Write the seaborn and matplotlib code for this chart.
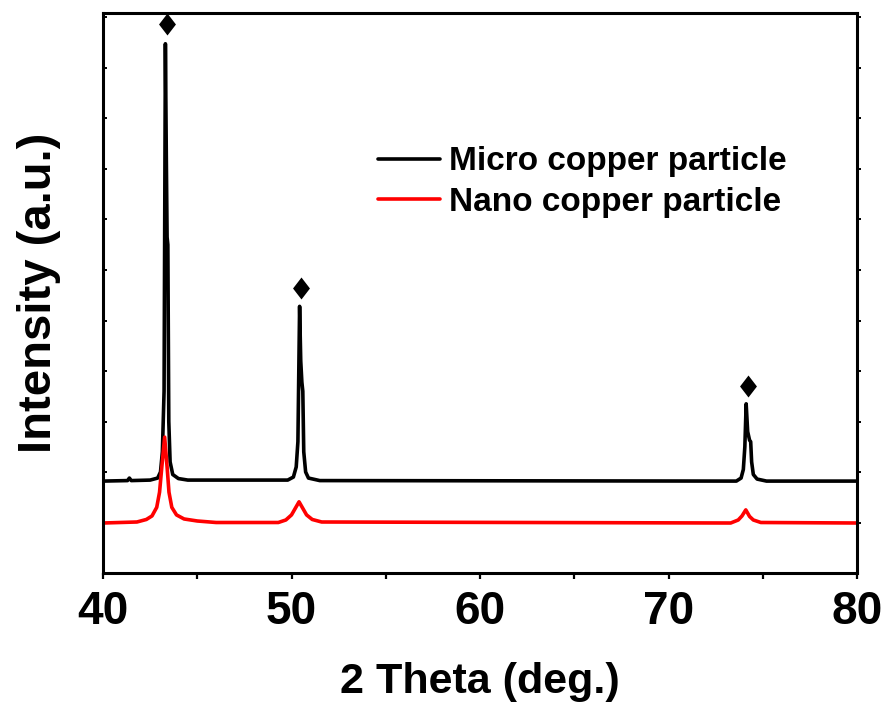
import matplotlib
matplotlib.use("Agg")
import matplotlib.pyplot as plt
from matplotlib.path import Path
import numpy as np
import pandas as pd
import seaborn as sns

# ---- data ----
series_names = ["Micro copper particle", "Nano copper particle"]

micro_2theta = [40.0, 41.3, 41.4, 41.5, 42.5, 42.9, 43.05, 43.15, 43.24, 43.31, 43.36,
                43.40, 43.44, 43.49, 43.56, 43.7, 44.0, 44.5,
                49.8, 50.1, 50.25, 50.34, 50.43, 50.49, 50.55, 50.60, 50.65, 50.75, 50.9, 51.5,
                73.6, 73.85, 73.97, 74.05, 74.12, 74.20, 74.30, 74.36, 74.41, 74.5, 74.7, 75.2, 80.0]
micro_intensity = [1.82, 1.83, 1.88, 1.83, 1.84, 1.88, 2.0, 2.4, 3.6, 10.48, 8.2,
                   6.65, 6.5, 3.0, 2.2, 1.95, 1.87, 1.84,
                   1.84, 1.9, 2.1, 2.6, 5.28, 4.2, 3.78, 3.6, 2.4, 2.0, 1.88, 1.83,
                   1.82, 1.88, 2.05, 2.5, 3.35, 2.8, 2.63, 2.6, 2.2, 1.95, 1.86, 1.82, 1.82]

nano_2theta = [40.0, 41.8, 42.3, 42.6, 42.85, 43.0, 43.12, 43.27, 43.4, 43.5, 43.65, 43.9,
               44.3, 45.0, 46.0,
               49.3, 49.7, 50.0, 50.2, 50.4, 50.6, 50.8, 51.1, 51.6,
               73.3, 73.7, 73.9, 74.1, 74.3, 74.5, 74.9, 80.0]
nano_intensity = [0.99, 1.01, 1.06, 1.13, 1.3, 1.6, 2.1, 2.69, 2.1, 1.6, 1.3, 1.15,
                  1.07, 1.03, 1.0,
                  1.0, 1.05, 1.15, 1.28, 1.41, 1.28, 1.15, 1.06, 1.01,
                  0.99, 1.05, 1.13, 1.25, 1.12, 1.05, 1.0, 0.99]

peak_2theta = [43.41, 50.50, 74.20]
peak_marker_y = [10.87, 5.64, 3.70]

x_major_ticks = [40, 50, 60, 70, 80]
x_minor_ticks = [45, 55, 65, 75]
y_ticks = list(range(1, 12))

# ---- styling ----
sns.set_theme(style="ticks")
plt.rcParams["font.family"] = ["Liberation Sans", "DejaVu Sans"]
plt.rcParams["font.weight"] = "bold"
plt.rcParams["axes.labelweight"] = "bold"
plt.rcParams["text.color"] = "black"
plt.rcParams["axes.labelcolor"] = "black"
plt.rcParams["xtick.color"] = "black"
plt.rcParams["ytick.color"] = "black"
plt.rcParams["axes.edgecolor"] = "black"

W, H = 888, 711
fig = plt.figure(figsize=(W / 100, H / 100), dpi=100)
ax = fig.add_axes([103 / W, 1 - 573 / H, 754 / W, 560 / H])

df = pd.concat([
    pd.DataFrame({"2theta": micro_2theta, "intensity": micro_intensity, "series": series_names[0]}),
    pd.DataFrame({"2theta": nano_2theta, "intensity": nano_intensity, "series": series_names[1]}),
], ignore_index=True)

sns.lineplot(data=df, x="2theta", y="intensity", hue="series", hue_order=series_names,
             palette=["#000000", "#ff0000"], sort=False, estimator=None,
             linewidth=2.6, ax=ax)

diamond = Path([(0, 1), (0.77, 0), (0, -1), (-0.77, 0), (0, 1)], closed=True)
sns.scatterplot(x=peak_2theta, y=peak_marker_y, marker=diamond, s=250, color="black",
                edgecolor="black", linewidth=0, ax=ax, legend=False, zorder=5)

handles, labels = ax.get_legend_handles_labels()
hl = [(h, l) for h, l in zip(handles, labels) if l in series_names]
leg = ax.legend([h for h, _ in hl], [l for _, l in hl], loc="upper left",
                bbox_to_anchor=(0.365, 0.762), frameon=False, fontsize=24,
                handlelength=1.86, handletextpad=0.25, labelspacing=0.28,
                borderpad=0, borderaxespad=0)
for line in leg.get_lines():
    line.set_linewidth(2.6)
for t in leg.get_texts():
    t.set_color("black")

ax.set_xlim(40, 80)
ax.set_ylim(0, 560 / 50.5)
ax.set_xticks(x_major_ticks)
ax.set_xticks(x_minor_ticks, minor=True)
ax.set_yticks(y_ticks)
ax.tick_params(axis="x", which="both", direction="out", length=4.5, width=1.6,
               labelsize=33, pad=8, colors="black")
ax.tick_params(axis="y", which="both", direction="in", length=3, width=1.4,
               left=True, right=False, labelleft=False)
for lab in ax.get_xticklabels():
    lab.set_fontweight("bold")

ax2 = ax.twinx()
ax2.set_ylim(ax.get_ylim())
ax2.set_yticks(y_ticks)
ax2.tick_params(axis="y", direction="out", length=3, width=1.4, labelright=False, right=True)
for sp in ax2.spines.values():
    sp.set_visible(False)

for sp in ax.spines.values():
    sp.set_visible(True)
    sp.set_linewidth(2.2)
    sp.set_color("black")

ax.set_xlabel("2 Theta (deg.)", fontsize=31, fontweight="bold", labelpad=20, color="black")
ax.set_ylabel("Intensity (a.u.)", fontsize=34, fontweight="bold", labelpad=30, color="black")

fig.savefig("out.png", dpi=100, facecolor="white")
